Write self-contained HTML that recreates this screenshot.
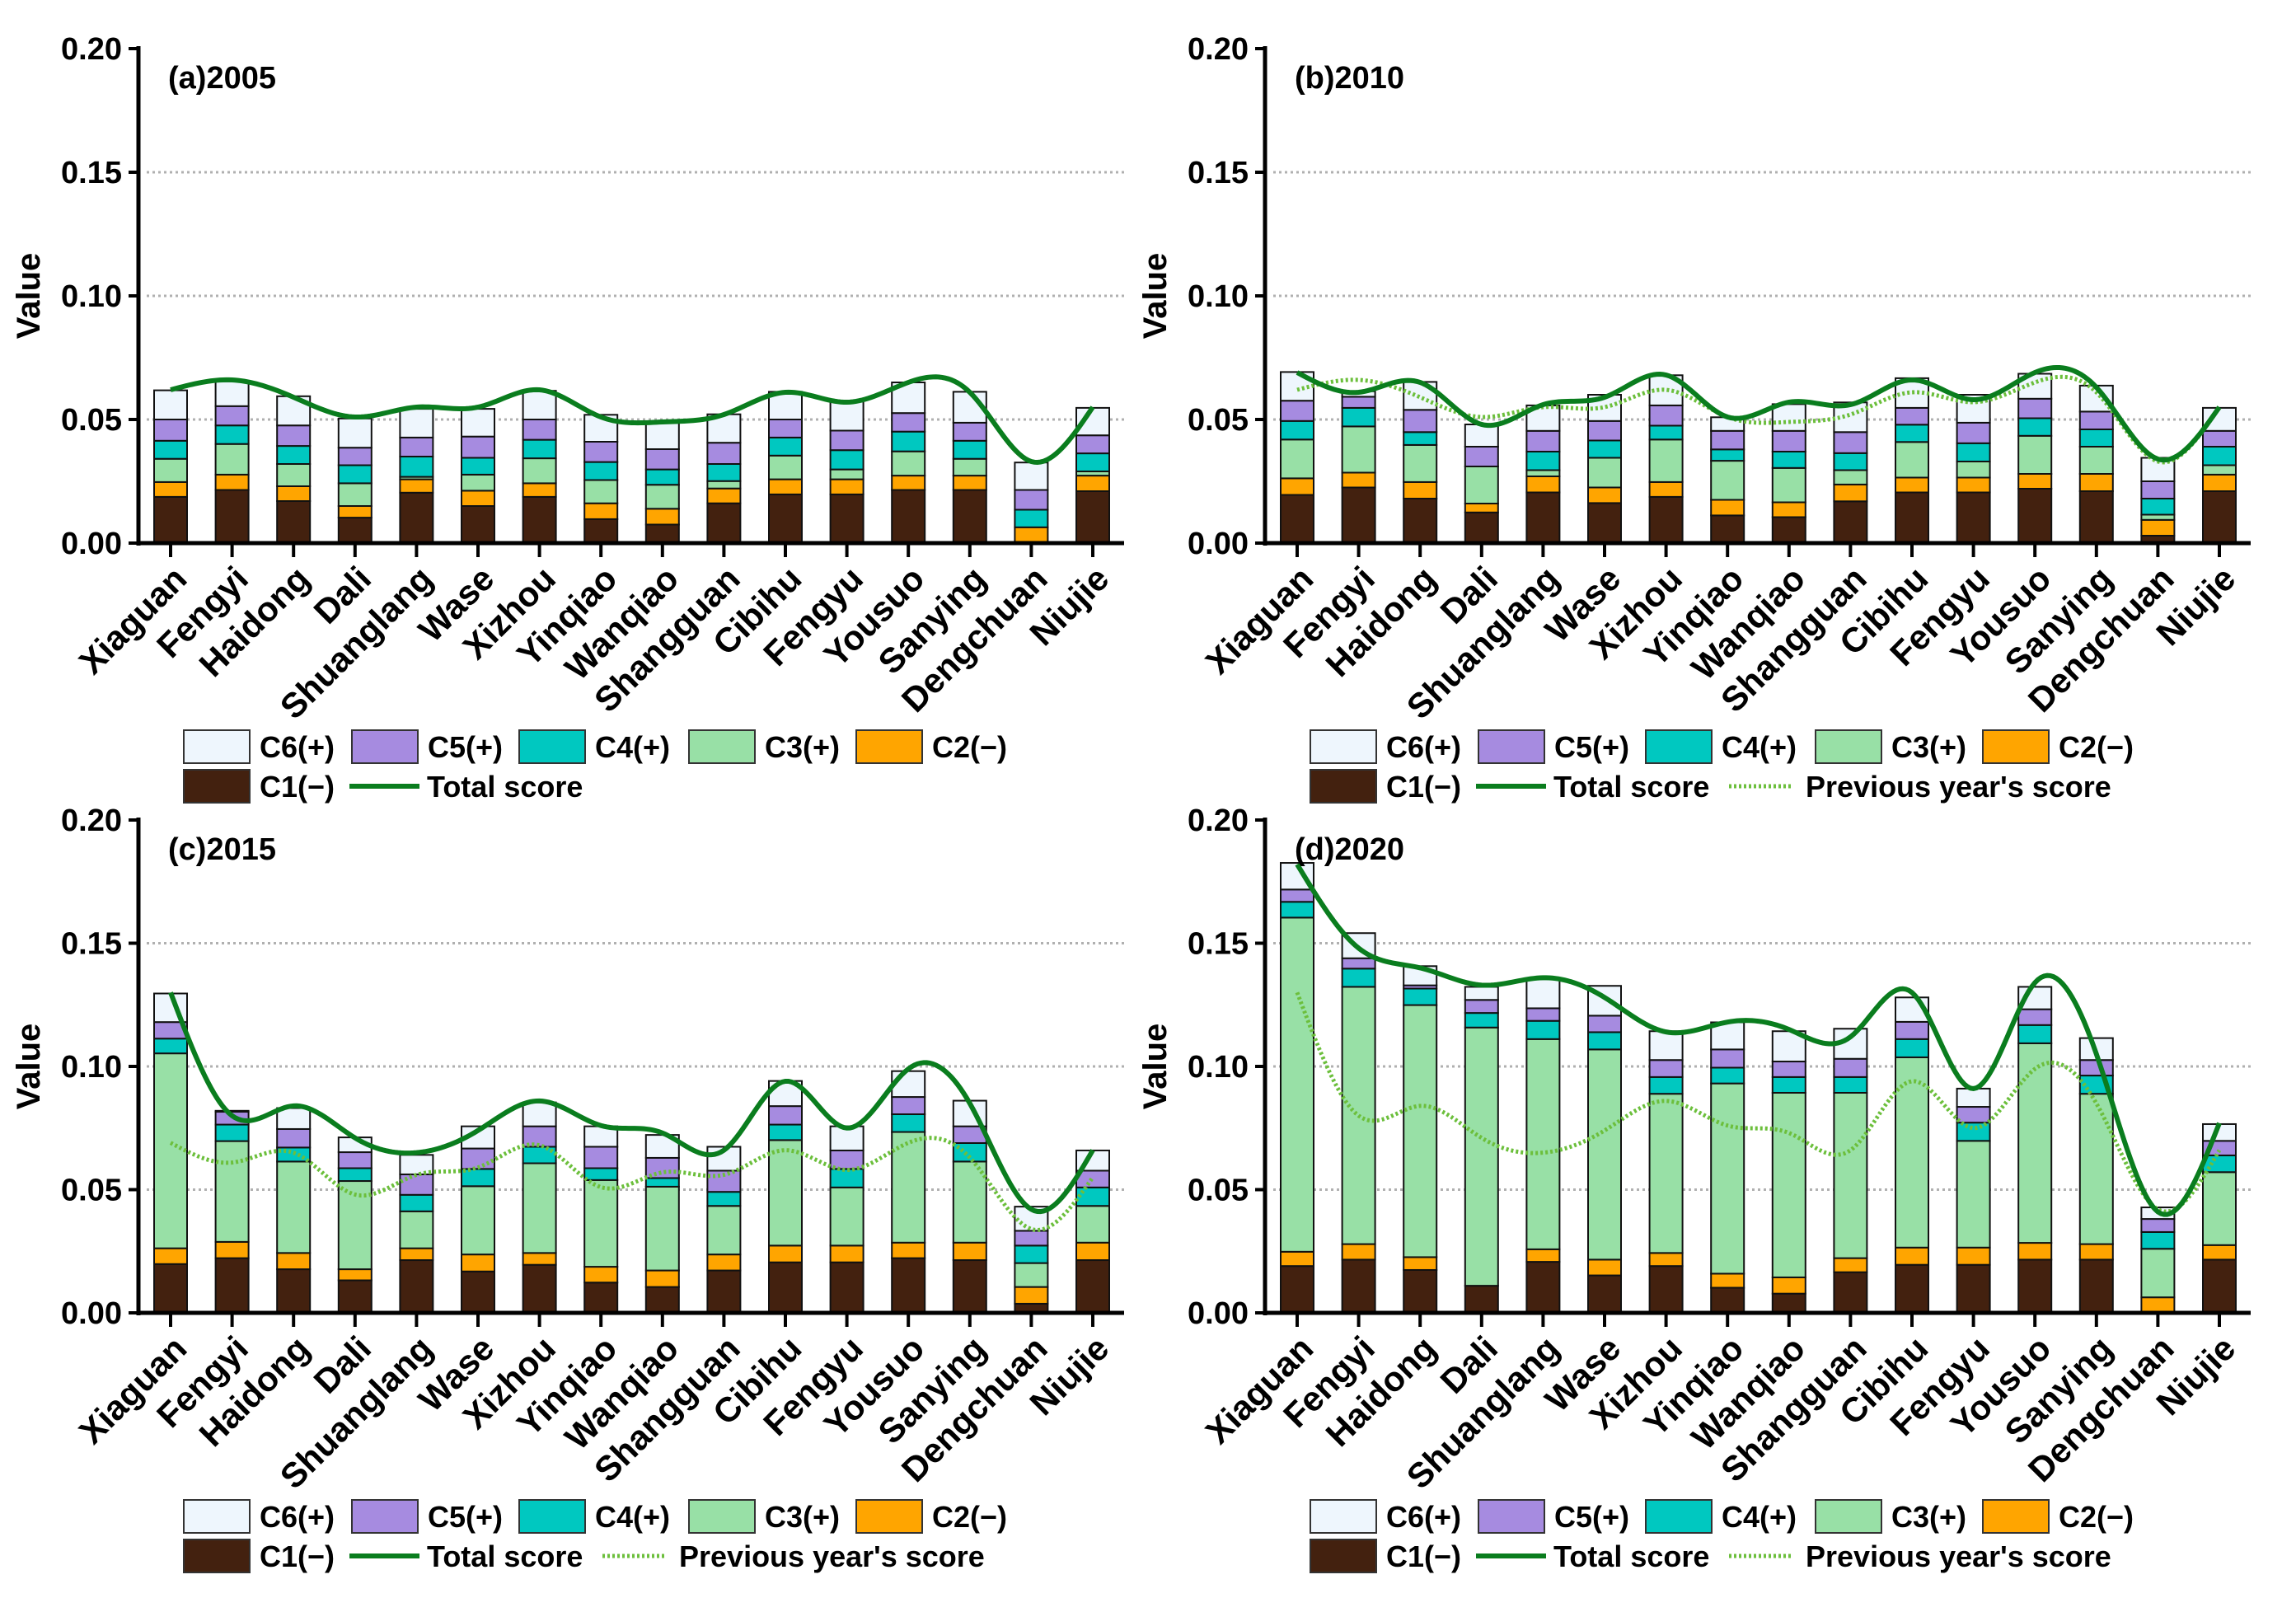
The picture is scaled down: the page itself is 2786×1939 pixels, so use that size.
<!DOCTYPE html>
<html><head><meta charset="utf-8"><style>
html,body{margin:0;padding:0;background:#fff;}
svg{display:block;font-family:"Liberation Sans",Arial,sans-serif;}
</style></head><body>
<svg id="chart" width="2786" height="1939" viewBox="0 0 2786 1939" xmlns="http://www.w3.org/2000/svg"></svg>
<script>
const categories=["Xiaguan","Fengyi","Haidong","Dali","Shuanglang","Wase","Xizhou","Yinqiao","Wanqiao","Shangguan","Cibihu","Fengyu","Yousuo","Sanying","Dengchuan","Niujie"];
const yTicks=[0,0.05,0.10,0.15,0.20];
const yTickLabels=["0.00","0.05","0.10","0.15","0.20"];
// 2005
const c1_2005=[.0187,.0215,.017,.0103,.0204,.015,.0187,.0097,.0075,.0161,.0197,.0197,.0215,.0215,0,.021];
const c2_2005=[.006,.0062,.006,.0047,.0054,.0062,.0055,.0064,.0064,.006,.0061,.0061,.0058,.0058,.0064,.0063];
const c3_2005=[.0094,.0124,.009,.0092,.001,.0065,.0101,.0094,.0097,.003,.0096,.004,.0098,.0068,0,.0017];
const c4_2005=[.0073,.0075,.0073,.0073,.0082,.0068,.0075,.0073,.0062,.0069,.0073,.0078,.008,.0073,.0071,.0073];
const c5_2005=[.0086,.0078,.0083,.0071,.0077,.0086,.0082,.0082,.0082,.0086,.0073,.0079,.0075,.0073,.008,.0073];
const c6_2005=[.0118,.010,.0118,.0118,.0116,.0112,.0116,.0109,.0109,.0115,.0112,.0118,.0124,.0125,.0111,.0111];
const total2005=[.062,.066,.059,.051,.055,.055,.062,.051,.049,.052,.061,.057,.065,.061,.033,.055];
// 2010
const c1_2010=[.0195,.0225,.018,.0124,.0205,.0162,.0187,.0112,.0105,.0169,.0205,.0205,.022,.021,.003,.021];
const c2_2010=[.0067,.006,.0067,.0036,.0065,.0063,.006,.0063,.006,.0068,.006,.006,.006,.007,.0064,.0067];
const c3_2010=[.0157,.0187,.015,.015,.0025,.012,.0172,.0158,.0139,.0058,.0144,.0065,.0154,.011,.0021,.0038];
const c4_2010=[.0075,.0075,.0052,0,.0075,.007,.0056,.0046,.0066,.0069,.007,.0074,.0071,.007,.0065,.0075];
const c5_2010=[.0082,.0045,.009,.008,.0084,.0079,.0082,.0075,.0084,.0085,.0068,.0083,.0079,.0072,.007,.0064];
const c6_2010=[.0116,.0022,.0113,.009,.0103,.0106,.0122,.0055,.0108,.012,.012,.0113,.0101,.0105,.0095,.0093];
const total2010=[.069,.061,.065,.048,.056,.059,.068,.051,.057,.056,.066,.058,.069,.063,.034,.055];
// 2015
const c1_2015=[.0198,.0222,.0177,.0132,.0214,.0168,.0195,.0123,.0105,.0172,.0205,.0205,.0222,.0214,.0037,.0214];
const c2_2015=[.0064,.0066,.0066,.0045,.0048,.0069,.0048,.0064,.0067,.0065,.0068,.0068,.0063,.0071,.0068,.0071];
const c3_2015=[.0791,.0409,.0371,.0358,.015,.0277,.0364,.0352,.034,.0197,.0428,.0236,.0449,.0329,.0097,.0149];
const c4_2015=[.006,.0067,.0057,.0052,.0067,.007,.0067,.0048,.0035,.0057,.0063,.0075,.0072,.0075,.0071,.0075];
const c5_2015=[.0067,.0052,.0075,.0065,.0083,.0083,.0083,.0087,.0082,.0086,.0075,.0075,.007,.0068,.006,.0068];
const c6_2015=[.0116,.0004,.0085,.006,.0079,.009,.0097,.0083,.0093,.0097,.0102,.0098,.0105,.0104,.0098,.0082];
const total2015=[.130,.080,.084,.071,.065,.074,.086,.076,.073,.066,.094,.075,.099,.085,.042,.066];
// 2020
const c1_2020=[.019,.0216,.0174,.011,.0207,.0152,.019,.0102,.0078,.0165,.0195,.0195,.0216,.0216,0,.0216];
const c2_2020=[.0058,.0063,.0052,0,.0051,.0064,.0053,.0057,.0066,.0057,.007,.007,.0068,.0063,.0063,.0059];
const c3_2020=[.1356,.1044,.1023,.1048,.0853,.0853,.0646,.0772,.0749,.0671,.0772,.0433,.081,.061,.0197,.0296];
const c4_2020=[.0064,.0074,.0067,.0059,.0074,.007,.0068,.0064,.0064,.0064,.0074,.0074,.0074,.0074,.0068,.0068];
const c5_2020=[.005,.0042,.0013,.0053,.0051,.0067,.0069,.0074,.0063,.0074,.007,.0064,.0064,.0063,.0053,.0059];
const c6_2020=[.0108,.0102,.0078,.0053,.0118,.0121,.0117,.011,.0123,.0122,.0099,.0074,.0091,.0089,.0047,.0068];
const total2020=[.182,.148,.140,.133,.136,.128,.114,.118,.115,.112,.130,.091,.134,.105,.041,.077];

const NS="http://www.w3.org/2000/svg";
const svg=document.getElementById('chart');
const colors=["#43210f","#ffa500","#98e0a6","#00c8c0","#a68be0","#eef6fd"];
const legNames=["C6(+)","C5(+)","C4(+)","C3(+)","C2(−)","C1(−)"];
function mk(tag,attrs,parent){const e=document.createElementNS(NS,tag);for(const k in attrs)e.setAttribute(k,attrs[k]);(parent||svg).appendChild(e);return e;}
function spline(xs,ys){const n=xs.length,h=[],al=[],l=[1],mu=[0],z=[0],c=new Array(n).fill(0),b=[],d=[];
 for(let i=0;i<n-1;i++)h.push(xs[i+1]-xs[i]);
 for(let i=1;i<n-1;i++)al[i]=3/h[i]*(ys[i+1]-ys[i])-3/h[i-1]*(ys[i]-ys[i-1]);
 for(let i=1;i<n-1;i++){l[i]=2*(xs[i+1]-xs[i-1])-h[i-1]*mu[i-1];mu[i]=h[i]/l[i];z[i]=(al[i]-h[i-1]*z[i-1])/l[i];}
 for(let j=n-2;j>=0;j--){c[j]=(j>0?z[j]:0)-mu[j]*c[j+1];b[j]=(ys[j+1]-ys[j])/h[j]-h[j]*(c[j+1]+2*c[j])/3;d[j]=(c[j+1]-c[j])/(3*h[j]);}
 const pts=[];for(let j=0;j<n-1;j++){for(let s=0;s<20;s++){const t=h[j]*s/20;pts.push([xs[j]+t,ys[j]+b[j]*t+c[j]*t*t+d[j]*t*t*t]);}}
 pts.push([xs[n-1],ys[n-1]]);return pts;}

function panel(cfg){
 const g=mk('g',{});
 
 
 const ax=cfg.ax,top=cfg.top,bot=cfg.bot,right=ax+1196;
 const y=v=>bot-(v/0.2)*(bot-top);
 const x=i=>ax+39+i*74.6;
 for(let k=1;k<4;k++){const gl=mk('line',{x1:ax+10,x2:right,y1:y(yTicks[k]),y2:y(yTicks[k]),stroke:"#b0b0b0","stroke-width":3,"stroke-dasharray":"3 4"},g);
  }
 const series=cfg.series;
 categories.forEach((c,i)=>{let acc=0;
  series.forEach((s,k)=>{const v=s[i];const r=mk('rect',{x:x(i)-20,y:y(acc+v),width:40,height:Math.max(0,y(acc)-y(acc+v)),fill:colors[k],stroke:"#111","stroke-width":2},g);
   acc+=v;});
 });
 if(cfg.prev){const p=spline(categories.map((c,i)=>x(i)),cfg.prev.map(y));
  const pl=mk('polyline',{points:p.map(q=>q.join(',')).join(' '),fill:"none",stroke:"#6cbf3c","stroke-width":5,"stroke-dasharray":"3 3"},g);
  }
 const p2=spline(categories.map((c,i)=>x(i)),cfg.total.map(y));
 const tl=mk('polyline',{points:p2.map(q=>q.join(',')).join(' '),fill:"none",stroke:"#0a7d1e","stroke-width":6},g);
 
 const ya=mk('line',{x1:ax,x2:ax,y1:top-3,y2:bot+3,stroke:"#000","stroke-width":5},g);
 
 const xa=mk('line',{x1:ax-2,x2:right,y1:bot,y2:bot,stroke:"#000","stroke-width":5},g);
 
 yTicks.forEach((v,k)=>{mk('line',{x1:ax-12,x2:ax,y1:y(v),y2:y(v),stroke:"#000","stroke-width":4},g);
  const t=mk('text',{x:ax-20,y:y(v)+13,"text-anchor":"end","font-size":38,"font-weight":"bold"},g);t.textContent=yTickLabels[k];
  });
 categories.forEach((c,i)=>{mk('line',{x1:x(i),x2:x(i),y1:bot,y2:bot+17,stroke:"#000","stroke-width":4},g);
  const t=mk('text',{x:x(i)+22,y:bot+46,"text-anchor":"end","font-size":42,"font-weight":"bold",transform:`rotate(-45 ${x(i)+22} ${bot+46})`},g);t.textContent=c;
  });
 const yt=mk('text',{x:ax-120,y:(top+bot)/2,"text-anchor":"middle","font-size":40,"font-weight":"bold",transform:`rotate(-90 ${ax-120} ${(top+bot)/2})`},g);yt.textContent="Value";
 
 const tt=mk('text',{x:ax+36,y:top+48,"font-size":38,"font-weight":"bold"},g);tt.textContent=cfg.title;
 
 const r1=bot+227,r2=bot+275;const offs=[55,259,462,668,871];const ord=[5,4,3,2,1];
 ord.forEach((k,j)=>{const lg=mk('g',{},g);
  mk('rect',{x:ax+offs[j],y:r1,width:80,height:40,fill:colors[k],stroke:"#333","stroke-width":2},lg);
  const t=mk('text',{x:ax+offs[j]+92,y:r1+33,"font-size":36,"font-weight":"bold"},lg);t.textContent=legNames[j];});
 const l1=mk('g',{},g);
 mk('rect',{x:ax+55,y:r2,width:80,height:40,fill:colors[0],stroke:"#333","stroke-width":2},l1);
 mk('text',{x:ax+147,y:r2+33,"font-size":36,"font-weight":"bold"},l1).textContent="C1(−)";
 const l2=mk('g',{},g);
 mk('line',{x1:ax+256,x2:ax+341,y1:r2+20,y2:r2+20,stroke:"#0a7d1e","stroke-width":6},l2);
 mk('text',{x:ax+350,y:r2+33,"font-size":36,"font-weight":"bold"},l2).textContent="Total score";
 if(cfg.prev){const l3=mk('g',{},g);
  mk('line',{x1:ax+563,x2:ax+639,y1:r2+20,y2:r2+20,stroke:"#6cbf3c","stroke-width":5,"stroke-dasharray":"3 3"},l3);
  mk('text',{x:ax+656,y:r2+33,"font-size":36,"font-weight":"bold"},l3).textContent="Previous year's score";}
}
panel({id:'2005',title:'(a)2005',ax:168,top:59,bot:659,series:[c1_2005,c2_2005,c3_2005,c4_2005,c5_2005,c6_2005],total:total2005});
panel({id:'2010',title:'(b)2010',ax:1535,top:59,bot:659,series:[c1_2010,c2_2010,c3_2010,c4_2010,c5_2010,c6_2010],total:total2010,prev:total2005});
panel({id:'2015',title:'(c)2015',ax:168,top:995,bot:1593,series:[c1_2015,c2_2015,c3_2015,c4_2015,c5_2015,c6_2015],total:total2015,prev:total2010});
panel({id:'2020',title:'(d)2020',ax:1535,top:995,bot:1593,series:[c1_2020,c2_2020,c3_2020,c4_2020,c5_2020,c6_2020],total:total2020,prev:total2015});
</script>
</body></html>
